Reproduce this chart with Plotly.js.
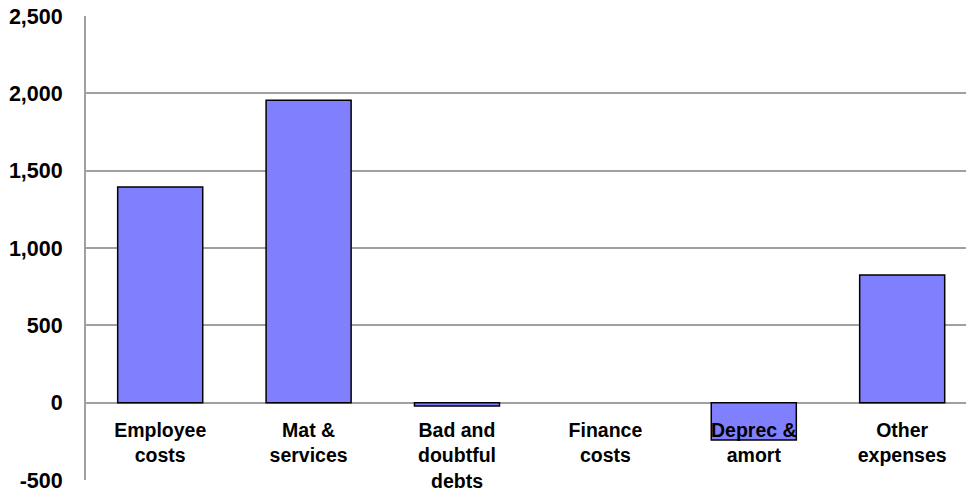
<!DOCTYPE html>
<html>
<head>
<meta charset="utf-8">
<script src="https://cdn.plot.ly/plotly-3.0.1.min.js"></script>
<style>html,body{margin:0;padding:0;background:#fff;overflow:hidden;}#chart{width:966px;height:495px;}</style>
</head>
<body>
<div id="chart"></div>
<script>
const categories = ["Employee<br>costs", "Mat &<br>services", "Bad and<br>doubtful<br>debts", "Finance<br>costs", "Deprec &<br>amort", "Other<br>expenses"];
const values = [1395, 1955, -22, null, -242, 826];
const yTickVals = [-500, 0, 500, 1000, 1500, 2000, 2500];
const yTickText = ["-500", "0", "500", "1,000", "1,500", "2,000", "2,500"];

const gridColor = "#a0a0a0";
const trace = {
  type: "bar",
  x: categories,
  y: values,
  marker: {color: "#8080ff", line: {color: "#000000", width: 1.5}},
  width: 0.573,
  hoverinfo: "x+y"
};
const layout = {
  width: 966, height: 495,
  margin: {l: 86, r: 0, t: 16, b: 15},
  paper_bgcolor: "#ffffff", plot_bgcolor: "#ffffff",
  showlegend: false,
  font: {family: "Liberation Sans, Arial, sans-serif", color: "#000"},
  xaxis: {
    type: "category",
    range: [-0.5, 5.43],
    anchor: "free",
    position: 1/6,
    showline: false, showgrid: false, zeroline: false,
    ticks: "outside", ticklen: 10, tickcolor: "rgba(0,0,0,0)",
    tickfont: {size: 19.5, weight: "bold", family: "Liberation Sans, Arial, sans-serif"},
    tickangle: 0
  },
  yaxis: {
    range: [-500, 2500],
    tickvals: yTickVals, ticktext: yTickText,
    showgrid: true, gridcolor: gridColor, gridwidth: 2,
    zeroline: true, zerolinecolor: gridColor, zerolinewidth: 2,
    showline: true, linecolor: gridColor, linewidth: 2,
    ticks: "outside", ticklen: 17, tickcolor: "rgba(0,0,0,0)",
    tickfont: {size: 21.5, weight: "bold", family: "Liberation Sans, Arial, sans-serif"}
  }
};
Plotly.newPlot("chart", [trace], layout, {displayModeBar: false, staticPlot: true});
</script>
</body>
</html>
